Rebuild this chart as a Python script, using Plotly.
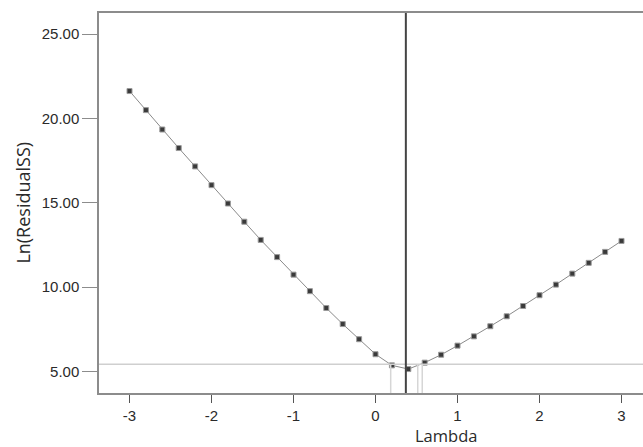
import plotly.graph_objects as go

lambdas = [-3.0, -2.8, -2.6, -2.4, -2.2, -2.0, -1.8, -1.6, -1.4, -1.2, -1.0,
           -0.8, -0.6, -0.4, -0.2, 0.0, 0.2, 0.4, 0.6, 0.8, 1.0,
           1.2, 1.4, 1.6, 1.8, 2.0, 2.2, 2.4, 2.6, 2.8, 3.0]
ln_rss = [21.63, 20.50, 19.35, 18.25, 17.16, 16.05, 14.96, 13.88, 12.80, 11.78, 10.74,
          9.76, 8.76, 7.81, 6.91, 6.02, 5.36, 5.14, 5.52, 5.99, 6.53,
          7.08, 7.68, 8.27, 8.88, 9.52, 10.15, 10.80, 11.44, 12.09, 12.74]

best_lambda = 0.37
ci_level = 5.42
ci_lines = [0.185, 0.515, 0.57]

x_ticks = [-3, -2, -1, 0, 1, 2, 3]
y_ticks = [5, 10, 15, 20, 25]
y_tick_labels = ["5.00", "10.00", "15.00", "20.00", "25.00"]

x_range = [-3.372, 3.262]
y_range = [3.72, 26.26]

fig = go.Figure()
fig.add_trace(go.Scatter(
    x=lambdas, y=ln_rss, mode="lines+markers",
    line=dict(color="#8a8a8a", width=1),
    marker=dict(symbol="square", size=5, color="#3a3a3a",
                line=dict(color="#9a9a9a", width=1)),
    showlegend=False, hoverinfo="skip"))

shapes = []
shapes.append(dict(type="line", xref="paper", yref="y", x0=0, x1=1,
                   y0=ci_level, y1=ci_level, line=dict(color="#cfcfcf", width=1.5)))
for cx in ci_lines:
    shapes.append(dict(type="line", xref="x", yref="y", x0=cx, x1=cx,
                       y0=y_range[0], y1=ci_level, line=dict(color="#d6d6d6", width=1.5)))
shapes.append(dict(type="line", xref="x", yref="paper", x0=best_lambda, x1=best_lambda,
                   y0=0, y1=1, line=dict(color="#444444", width=2)))

fig.update_layout(
    width=643, height=447,
    margin=dict(l=99, r=0, t=13, b=54),
    paper_bgcolor="white", plot_bgcolor="white",
    shapes=shapes,
    xaxis=dict(range=x_range, tickvals=x_ticks, ticktext=[str(v) for v in x_ticks],
               showgrid=False, zeroline=False, showline=True, linecolor="#8c8c8c",
               linewidth=1.5, mirror=True, ticks="outside", ticklen=8, tickwidth=1,
               tickcolor="#555555",
               tickfont=dict(family="Liberation Sans, Arial", size=15, color="#2a2a2a")),
    yaxis=dict(range=y_range, tickvals=y_ticks, ticktext=y_tick_labels,
               showgrid=False, zeroline=False, showline=True, linecolor="#8c8c8c",
               linewidth=1.5, ticks="outside", ticklen=15, tickwidth=1,
               tickcolor="#8c8c8c",
               tickfont=dict(family="Liberation Sans, Arial", size=15, color="#2a2a2a")),
    annotations=[
        dict(text="Lambda", xref="paper", yref="paper", x=0.638, y=-0.111,
             xanchor="center", yanchor="middle", showarrow=False, borderpad=0,
             font=dict(family="Open Sans", size=16.5, color="#2a2a2a")),
        dict(text="Ln(ResidualSS)", xref="paper", yref="paper", x=-0.139, y=0.502,
             xanchor="center", yanchor="middle", textangle=-90, showarrow=False,
             font=dict(family="Open Sans", size=18, color="#2a2a2a")),
    ],
)

fig.write_html("out.html",
               config={"displayModeBar": False},
               post_script="document.body.style.margin='0';document.body.style.overflow='hidden';")
